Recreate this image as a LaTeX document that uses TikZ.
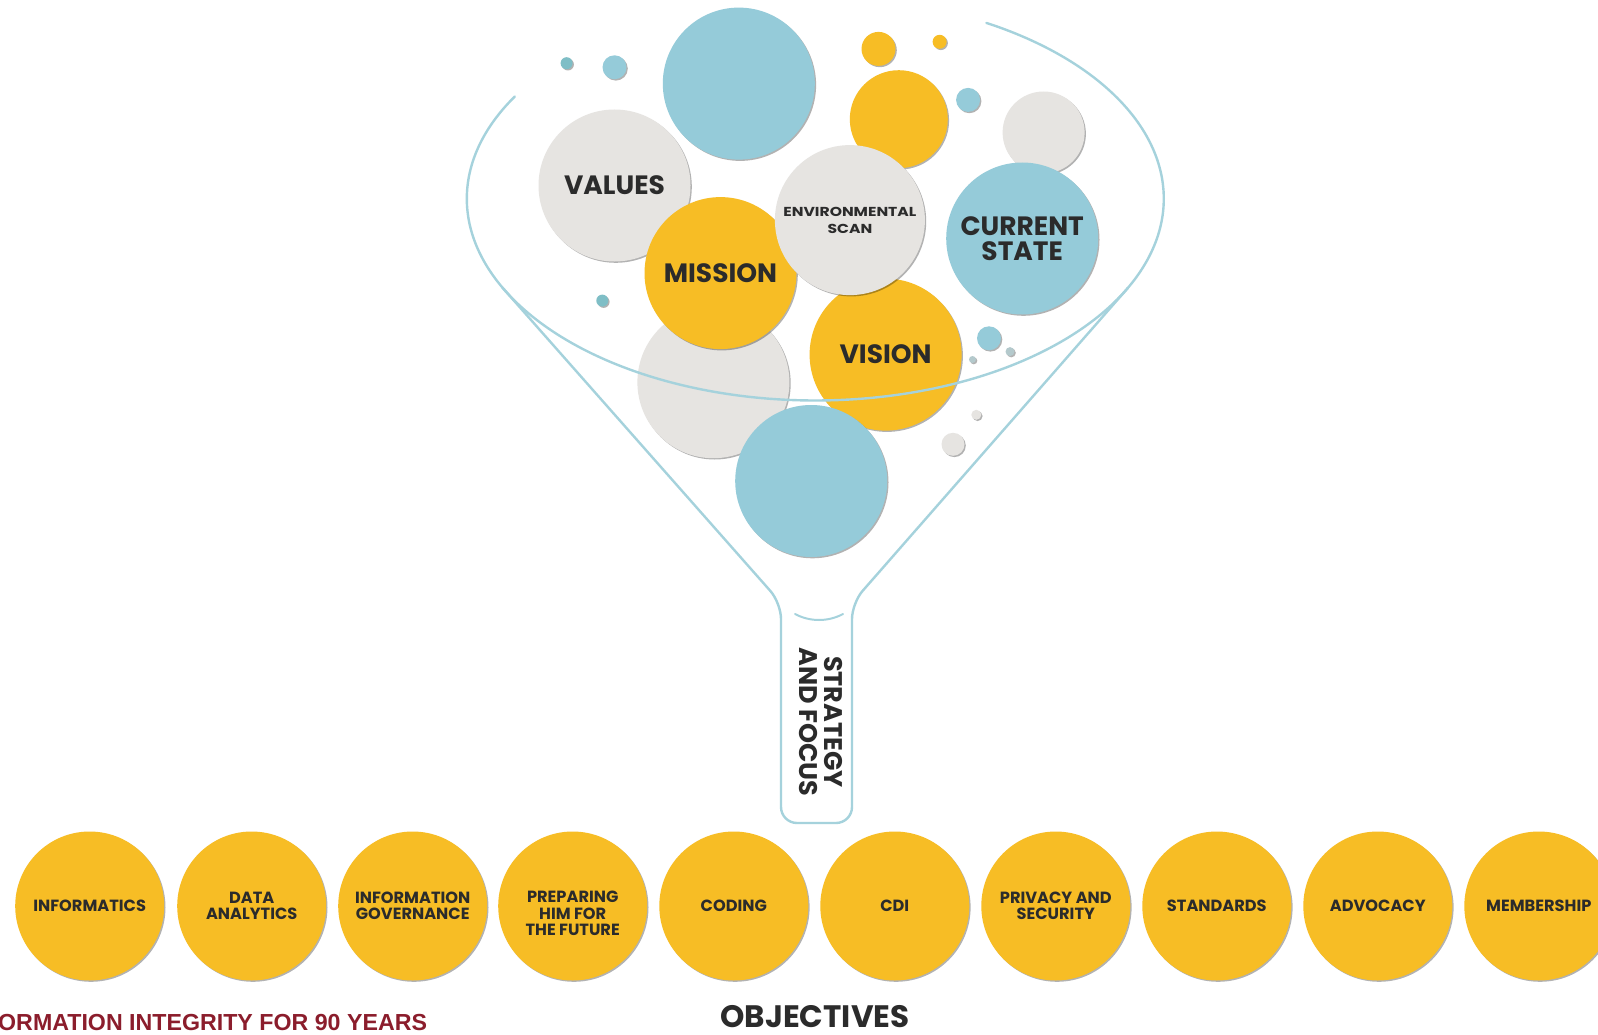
\documentclass[tikz,border=0pt]{standalone}
\usepackage{fontspec}
\setmainfont{Liberation Sans}
\newfontfamily\geo{Poppins}
\newfontfamily\geowide{Poppins}[FakeStretch=1.2]
\usetikzlibrary{shadows}
\definecolor{cyellow}{HTML}{F7BD25}
\definecolor{cblue}{HTML}{95CBD9}
\definecolor{cgrey}{HTML}{E6E4E1}
\definecolor{cteal}{HTML}{7FBEC6}
\definecolor{cdot}{HTML}{B4C9CC}
\definecolor{crim}{HTML}{A5D2DC}
\definecolor{ctext}{HTML}{2B2B2B}
\definecolor{cmaroon}{HTML}{8B1D2C}
\begin{document}
\begin{tikzpicture}[x=1pt,y=-1pt,
  ball/.style={circle, inner sep=0pt, minimum size=#1, align=center, text=ctext,
    drop shadow={shadow xshift=1.3pt, shadow yshift=-1.3pt, opacity=0.3, fill=black}},
  yb/.style={ball=#1, fill=cyellow},
  bb/.style={ball=#1, fill=cblue},
  gb/.style={ball=#1, fill=cgrey},
  tb/.style={ball=#1, fill=cteal},
  db/.style={ball=#1, fill=cdot},
  big/.style={font=\geo\bfseries\fontsize{26.5}{26.5}\selectfont},
  objfont/.style={font=\geo\bfseries\fontsize{16.2}{16.3}\selectfont},
  obj/.style={yb=149pt, objfont},
  rim/.style={draw=crim, line width=2.4pt, line cap=round, line join=round}
]
\useasboundingbox (0,0) rectangle (1598,1035);
\clip (0,0) rectangle (1598,1035);
\fill[white] (0,0) rectangle (1598,1035);

% background bubbles
\node[tb=12pt] (d1) at (566.6,63.2) {};
\node[bb=24pt] (d2) at (614.5,67.3) {};
\node[bb=152pt] (b3) at (738.8,83.6) {};
\node[yb=34pt] (d4) at (878.5,48.9) {};
\node[yb=14pt] (d5) at (939.6,41.8) {};
\node[yb=98pt] (b6) at (898.8,119.2) {};
\node[bb=24pt] (d7) at (968.1,99.9) {};
\node[gb=82pt] (b8) at (1043.6,132.5) {};

% main bubbles
\node[gb=152pt, big] (values) at (614.5,185.5) {VALUES};
\node[tb=12pt] (d13) at (602.3,300.6) {};
\node[gb=152pt] (g14) at (713.4,382.2) {};
\node[yb=152pt, big] (mission) at (720.5,273.1) {MISSION};
\node[yb=152pt, big] (vision) at (885.6,354.6) {VISION};
\node[gb=150pt, font=\geowide\bfseries\fontsize{13}{17}\selectfont] (env) at (849.9,220.1) {ENVIRONMENTAL\\SCAN};
\node[bb=152pt, font=\geo\bfseries\fontsize{26.5}{25.5}\selectfont] (current) at (1022.2,238.5) {CURRENT\\STATE};
\node[bb=24pt] (d16) at (989,338.3) {};
\node[db=7pt] (d16a) at (972.5,359.5) {};
\node[db=9pt] (d16b) at (1010,351.6) {};
\node[bb=152pt] (b17) at (811.2,481) {};
\node[gb=10pt] (d18) at (976.3,414.8) {};
\node[gb=23pt] (d19) at (953,444.3) {};

% funnel
\draw[rim] plot[domain=149.6:420.6, samples=160, smooth] ({815.3+348.5*cos(\x)}, {198.7-201.8*sin(\x)});
\coordinate (lt) at (502.6,287.8);
\coordinate (rt) at (1128,287.8);
\coordinate (sl) at (781,603);
\coordinate (sr) at (852,603);
\coordinate (bl) at (781,823);
\coordinate (br) at (852,823);
\draw[rim, rounded corners=16pt] (lt) -- (sl) -- (bl) -- (br) -- (sr) -- (rt);
\coordinate (m1) at (795,614);
\coordinate (m2) at (843,614);
\draw[rim, line width=2pt] (m1) .. controls (810,622) and (828,622) .. (m2);
\node[rotate=-90, align=center, text=ctext, font=\geo\bfseries\fontsize{25.5}{25.5}\selectfont] (sf) at (821,722) {STRATEGY\\AND FOCUS};

% objectives
\node[obj] (o1) at (89.7,906) {INFORMATICS};
\node[obj] (o2) at (251.7,906) {DATA\\ANALYTICS};
\node[obj] (o3) at (412.7,906) {INFORMATION\\GOVERNANCE};
\node[obj] (o4) at (572.7,906) {};
\node[align=center, text=ctext, objfont] (o4t) at (572.7,913.5) {PREPARING\\HIM FOR\\THE FUTURE};
\node[obj] (o5) at (733.8,906) {CODING};
\node[obj] (o6) at (894.8,906) {CDI};
\node[obj] (o7) at (1055.8,906) {PRIVACY AND\\SECURITY};
\node[obj] (o8) at (1216.8,906) {STANDARDS};
\node[obj] (o9) at (1377.8,906) {ADVOCACY};
\node[obj] (o10) at (1538.8,906) {MEMBERSHIP};

\node[anchor=base, inner sep=0pt, text=ctext, font=\geo\bfseries\fontsize{31}{31}\selectfont] (objt) at (815,1027.5) {OBJECTIVES};
\node[anchor=base west, inner sep=0pt, text=cmaroon, font=\bfseries\fontsize{23.2}{24}\selectfont] (tag) at (-2,1030) {ORMATION INTEGRITY FOR 90 YEARS};
\end{tikzpicture}
\end{document}
